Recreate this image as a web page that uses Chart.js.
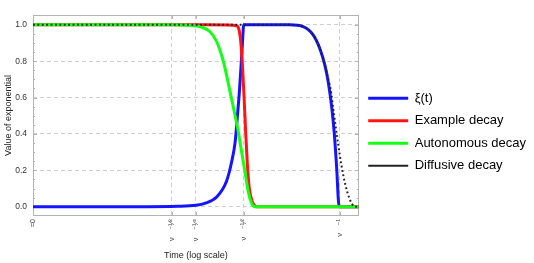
<!DOCTYPE html>
<html>
<head>
<meta charset="utf-8">
<script src="https://cdn.jsdelivr.net/npm/chart.js@4.4.1/dist/chart.umd.min.js"></script>
<style>
  html, body { margin: 0; padding: 0; background: #fff; }
  #wrap { width: 534px; height: 263px; position: relative; }
</style>
</head>
<body>
<div id="wrap"><canvas id="c"></canvas></div>
<script>
// x is the exponent a in t = nu^(-a)  (log-time axis)
const seriesLabels = ['ξ(t)', 'Example decay', 'Autonomous decay', 'Diffusive decay'];

const xiX = [-0.6, 0.0, 0.15, 0.25, 0.3, 0.36, 0.41, 0.4375, 0.455, 0.467, 0.477, 0.486, 0.493, 0.5, 0.6, 0.74, 0.81, 0.862, 0.897, 0.923, 0.941, 0.958, 0.972, 0.984, 0.998, 1.05, 1.1];
const xiY = [0, 0, 0.002, 0.008, 0.02, 0.055, 0.14, 0.25, 0.355, 0.50, 0.63, 0.775, 0.9, 1.0, 1.0, 1.0, 0.99, 0.945, 0.87, 0.78, 0.686, 0.557, 0.41, 0.23, 0.0, 0, 0];

const exampleX = [-0.6, 0.3, 0.446, 0.46, 0.472, 0.484, 0.493, 0.502, 0.51, 0.519, 0.529, 0.546, 0.567, 0.6, 1.1];
const exampleY = [1, 1, 0.998, 0.995, 0.985, 0.91, 0.78, 0.595, 0.41, 0.23, 0.1, 0.025, 0.0, 0, 0];

const autoX = [-0.6, 0.1, 0.17, 0.22, 0.272, 0.324, 0.359, 0.394, 0.429, 0.455, 0.472, 0.489, 0.507, 0.524, 0.542, 0.559, 0.6, 1.1];
const autoY = [1, 1, 0.999, 0.997, 0.99, 0.962, 0.907, 0.797, 0.63, 0.50, 0.41, 0.30, 0.19, 0.08, 0.017, 0.0, 0, 0];

const diffX = [-0.6, 0.74, 0.81, 0.862, 0.897, 0.923, 0.941, 0.953, 0.967, 0.984, 1.001, 1.019, 1.040, 1.063, 1.089, 1.1];
const diffY = [1, 1, 0.99, 0.945, 0.87, 0.78, 0.70, 0.65, 0.54, 0.41, 0.285, 0.175, 0.083, 0.019, 0.0, 0];

const xTickValues = [-0.6, 0.125, 0.25, 0.5, 1.0];
const xTickLabels = ['≈0', 'ν\u2003⁻¹⁄⁸', 'ν\u2003⁻¹⁄⁴', 'ν\u2003⁻¹⁄²', 'ν\u2003⁻¹'];
const yTickValues = [0, 0.2, 0.4, 0.6, 0.8, 1.0];
const yMinorStep = 0.05;

const toPts = (xs, ys) => xs.map((x, i) => ({ x: x, y: ys[i] }));

const FONT = "'Liberation Sans', Arial, 'DejaVu Sans', sans-serif";

const framePlugin = {
  id: 'frame',
  beforeDatasetsDraw(chart) {
    const { ctx, chartArea: a, scales: { x, y } } = chart;
    ctx.save();
    ctx.strokeStyle = '#b3b3b3';
    ctx.lineWidth = 1;
    ctx.setLineDash([]);
    ctx.strokeRect(Math.round(a.left) + 0.5, Math.round(a.top) + 0.5,
      Math.round(a.right - a.left) - 1, Math.round(a.bottom - a.top) - 1);
    ctx.beginPath();
    const n = Math.round(1 / yMinorStep);
    for (let i = 0; i <= n; i++) {
      const v = i * yMinorStep;
      const py = Math.round(y.getPixelForValue(v)) + 0.5;
      const major = yTickValues.some(t => Math.abs(t - v) < 1e-6);
      const len = major ? 4 : 2;
      ctx.moveTo(a.left, py); ctx.lineTo(a.left + len, py);
      ctx.moveTo(a.right, py); ctx.lineTo(a.right - len, py);
    }
    xTickValues.forEach(v => {
      const px = Math.round(x.getPixelForValue(v)) + 0.5;
      ctx.moveTo(px, a.bottom); ctx.lineTo(px, a.bottom - 4);
      ctx.moveTo(px, a.top); ctx.lineTo(px, a.top + 4);
    });
    ctx.stroke();
    ctx.restore();
  }
};

const common = { pointRadius: 0, fill: false, cubicInterpolationMode: 'monotone', borderJoinStyle: 'round' };

new Chart(document.getElementById('c'), {
  type: 'line',
  data: {
    datasets: [
      Object.assign({ label: seriesLabels[0], data: toPts(xiX, xiY), borderColor: '#1414ff', borderWidth: 3, order: 4 }, common),
      Object.assign({ label: seriesLabels[1], data: toPts(exampleX, exampleY), borderColor: '#ff1414', borderWidth: 3, order: 3 }, common),
      Object.assign({ label: seriesLabels[2], data: toPts(autoX, autoY), borderColor: '#14ff14', borderWidth: 3, order: 2 }, common),
      Object.assign({ label: seriesLabels[3], data: toPts(diffX, diffY), borderColor: '#222222', borderWidth: 2, borderDash: [1.8, 2.6], order: 1 }, common)
    ]
  },
  options: {
    responsive: true,
    maintainAspectRatio: false,
    animation: false,
    events: [],
    layout: { padding: { top: 15, left: 0, right: -2, bottom: 0 } },
    plugins: {
      tooltip: { enabled: false },
      legend: {
        position: 'right',
        align: 'center',
        fullSize: false,
        maxWidth: 200,
        title: { display: true, text: ' ', font: { size: 10 }, padding: { top: 10.5, bottom: 10.5 } },
        labels: {
          usePointStyle: true,
          pointStyle: 'line',
          pointStyleWidth: 40,
          boxWidth: 40,
          padding: 9.5,
          color: '#000',
          font: { family: FONT, size: 13 },
          sort: (a, b) => a.datasetIndex - b.datasetIndex
        }
      }
    },
    scales: {
      x: {
        type: 'linear',
        min: -0.6,
        max: 1.1,
        afterBuildTicks: s => { s.ticks = xTickValues.map(v => ({ value: v })); },
        afterFit: s => { s.height = 47; },
        grid: {
          drawTicks: false,
          color: ctx => (ctx.tick && ctx.tick.value > -0.59) ? '#cfcfcf' : 'rgba(0,0,0,0)',
          lineWidth: 1
        },
        border: { display: false, dash: [4, 3] },
        ticks: {
          autoSkip: false,
          minRotation: 90,
          maxRotation: 90,
          padding: 3,
          color: '#333',
          font: { family: FONT, size: 7.5 },
          callback: (v, i) => xTickLabels[i]
        },
        title: {
          display: true,
          text: 'Time (log scale)',
          color: '#222',
          font: { family: FONT, size: 9 },
          padding: { top: 0, bottom: 2 }
        }
      },
      y: {
        type: 'linear',
        min: -0.051,
        max: 1.054,
        afterBuildTicks: s => { s.ticks = yTickValues.map(v => ({ value: v })); },
        afterFit: s => { s.width = 33; },
        grid: { drawTicks: false, color: '#cfcfcf', lineWidth: 1 },
        border: { display: false, dash: [4, 3] },
        ticks: {
          padding: 6,
          color: '#333',
          font: { family: FONT, size: 8.5 },
          callback: v => v.toFixed(1)
        },
        title: {
          display: true,
          text: 'Value of exponential',
          color: '#222',
          font: { family: FONT, size: 9 },
          padding: { top: 3, bottom: 0 }
        }
      }
    }
  },
  plugins: [framePlugin]
});
</script>
</body>
</html>
